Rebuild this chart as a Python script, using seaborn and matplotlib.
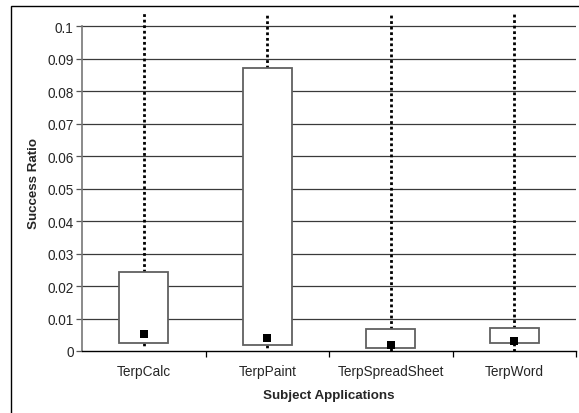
import matplotlib
matplotlib.use("Agg")
import matplotlib.pyplot as plt
import seaborn as sns
import pandas as pd
from matplotlib.patches import Rectangle

categories = ["TerpCalc", "TerpPaint", "TerpSpreadSheet", "TerpWord"]
q1 = [0.0025, 0.0018, 0.0010, 0.0026]
q3 = [0.0243, 0.0870, 0.0067, 0.0070]
median = [0.0052, 0.0040, 0.0018, 0.0032]
whisker_low = [0.0009, 0.0006, 0.0, 0.0]
whisker_high = [1.0, 1.0, 1.0, 1.0]
yticks = [0.0, 0.01, 0.02, 0.03, 0.04, 0.05, 0.06, 0.07, 0.08, 0.09, 0.1]
ytick_labels = ["0", "0.01", "0.02", "0.03", "0.04", "0.05", "0.06", "0.07", "0.08", "0.09", "0.1"]

sns.set_style("white")
plt.rcParams["font.family"] = ["Liberation Sans", "DejaVu Sans"]

fig = plt.figure(figsize=(5.79, 4.14), dpi=100)
ax = fig.add_axes([82 / 579, 1 - 352 / 414, (576 - 82) / 579, (352 - 15) / 414])

# outer frame (top and left visible)
fig.patches.append(Rectangle((11 / 579, -0.05), 1.2, 1.05 - 7 / 414, transform=fig.transFigure,
                             fill=False, edgecolor="black", linewidth=1.0, zorder=0))

# gridlines
for y in yticks[1:]:
    ax.axhline(y, color="#3a3a3a", linewidth=0.9, zorder=0)

stats = []
for i, c in enumerate(categories):
    stats.append(dict(label=c, med=median[i], q1=q1[i], q3=q3[i],
                      whislo=whisker_low[i], whishi=whisker_high[i], fliers=[]))

ax.bxp(stats, positions=list(range(len(categories))), widths=0.4, showcaps=False,
       patch_artist=True, manage_ticks=False,
       boxprops=dict(facecolor="white", edgecolor="#606060", linewidth=1.3, zorder=2),
       whiskerprops=dict(color="black", linewidth=2.0, linestyle=(0, (1, 1)), zorder=1),
       medianprops=dict(linewidth=0))

df = pd.DataFrame({"pos": list(range(len(categories))), "median": median})
sns.scatterplot(data=df, x="pos", y="median", marker="s", s=28, color="black",
                edgecolor="black", linewidth=0, ax=ax, zorder=3, legend=False)

ax.set_xlim(-0.5, 3.5)
ax.set_ylim(0, 0.1037)
ax.set_yticks(yticks)
ax.set_yticklabels(ytick_labels, fontsize=9.8)
ax.set_xticks(range(len(categories)))
ax.set_xticklabels(categories, fontsize=9.8)
ax.set_xticks([0.5, 1.5, 2.5, 3.5], minor=True)
ax.tick_params(axis="x", which="major", length=0, pad=9.5)
ax.tick_params(axis="x", which="minor", length=4, width=0.9, color="black", direction="out", bottom=True)
ax.tick_params(axis="y", length=4, width=0.9, color="#555555", direction="out", left=True, pad=2)

for s in ["top", "right"]:
    ax.spines[s].set_visible(False)
ax.spines["left"].set_bounds(0, 0.1)
ax.spines["left"].set_color("#777777")
ax.spines["left"].set_linewidth(1.2)
ax.spines["bottom"].set_color("black")
ax.spines["bottom"].set_linewidth(1.0)

ax.set_xlabel("Subject Applications", fontsize=9.6, fontweight="bold", labelpad=7.5)
ax.set_ylabel("Success Ratio", fontsize=9.6, fontweight="bold", labelpad=5)

fig.savefig("out.png", dpi=100)
